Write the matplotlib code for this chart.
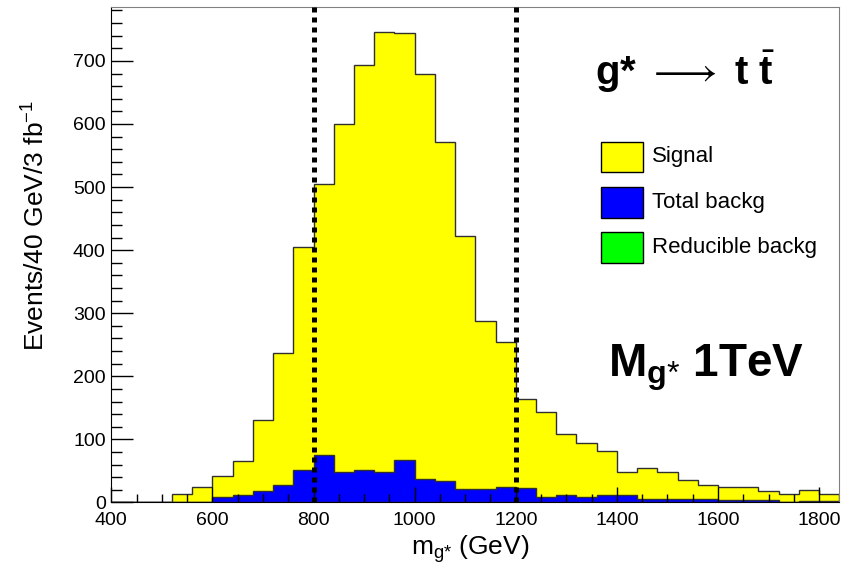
import numpy as np
import matplotlib
matplotlib.use("Agg")
import matplotlib.pyplot as plt
from matplotlib.patches import Rectangle
from matplotlib.ticker import MultipleLocator

plt.rcParams['font.family'] = ['Liberation Sans', 'DejaVu Sans']
plt.rcParams['mathtext.fontset'] = 'custom'
plt.rcParams['mathtext.rm'] = 'Liberation Sans'
plt.rcParams['mathtext.bf'] = 'Liberation Sans:bold'
plt.rcParams['mathtext.it'] = 'Liberation Sans:italic'

# 40 GeV bins from 400 to 1840 GeV
bin_edges = np.arange(400, 1841, 40)

signal = [0, 0, 1, 13, 25, 42, 66, 130, 237, 405,
          505, 600, 694, 746, 744, 679, 571, 423, 287, 255,
          164, 144, 109, 95, 81, 49, 55, 49, 35, 27,
          24, 24, 18, 13, 19, 13]
total_backg = [0, 0, 0, 0, 1, 9, 11, 18, 28, 51,
               75, 48, 51, 49, 68, 37, 34, 22, 22, 25,
               23, 8, 12, 9, 12, 12, 5, 5, 5, 5,
               4, 4, 4, 0, 3, 3]
reducible_backg = [0] * 36

cuts = [800, 1200]
legend_labels = ["Signal", "Total backg", "Reducible backg"]
colors = ["#ffff00", "#0000ff", "#00ff00"]

fig = plt.figure(figsize=(8.49, 5.71), dpi=100)
ax = fig.add_axes([0.1311, 0.1201, 0.8575, 0.8671])

for vals, col in zip([signal, total_backg, reducible_backg], colors):
    ax.stairs(vals, bin_edges, fill=True, facecolor=col,
              edgecolor='#303030', linewidth=1, zorder=1)

for c in cuts:
    ax.axvline(c, color='black', lw=3.6, ls=(0, (1, 1)), zorder=3)

ax.set_xlim(400, 1840)
ax.set_ylim(0, 785)
ax.set_axisbelow(False)

ax.xaxis.set_major_locator(MultipleLocator(200))
ax.xaxis.set_minor_locator(MultipleLocator(50))
ax.yaxis.set_major_locator(MultipleLocator(100))
ax.yaxis.set_minor_locator(MultipleLocator(20))

ax.tick_params(axis='x', which='major', direction='in', length=10.8,
               width=1, pad=7, labelsize=14, top=False)
ax.tick_params(axis='x', which='minor', direction='in', length=5.8,
               width=1, top=False)
ax.tick_params(axis='y', which='major', direction='in', length=15.8,
               width=1, pad=4, labelsize=14, right=False)
ax.tick_params(axis='y', which='minor', direction='in', length=8,
               width=1, right=False)

for side in ['top', 'right']:
    ax.spines[side].set_color('#808080')
for side in ['left', 'bottom']:
    ax.spines[side].set_color('black')

ax.text(0.493, -0.094, r'm$_{\mathrm{g}{*}}$ (GeV)', transform=ax.transAxes,
        ha='center', va='center', fontsize=19)
ax.text(-0.103, 0.56, r'Events/40 GeV/3 fb$^{-1}$', transform=ax.transAxes,
        ha='center', va='center', rotation=90, fontsize=19)

ax.text(0.788, 0.843, r'g* $\longrightarrow$ t $\bar{\mathbf{t}}$',
        transform=ax.transAxes, ha='center', va='baseline', fontsize=29,
        fontweight='bold')
ax.text(0.817, 0.254, r'M$_{\mathbf{g}{*}}$ 1TeV',
        transform=ax.transAxes, ha='center', va='baseline', fontsize=33,
        fontweight='bold')

# legend drawn by hand, no frame
box_y = [0.6667, 0.5744, 0.4836]
for y0, col, lab in zip(box_y, colors, legend_labels):
    ax.add_patch(Rectangle((0.6727, y0), 0.0577, 0.0618, transform=ax.transAxes,
                           facecolor=col, edgecolor='black', lw=1, zorder=4))
    ax.text(0.7423, y0 + 0.031, lab, transform=ax.transAxes,
            ha='left', va='center', fontsize=16)

fig.savefig("out.png", dpi=100)
